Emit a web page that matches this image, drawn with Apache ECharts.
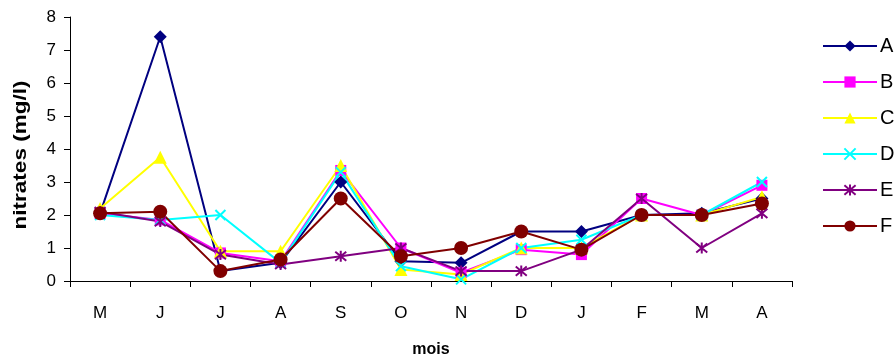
<!DOCTYPE html>
<html>
<head>
<meta charset="utf-8">
<script src="https://cdn.jsdelivr.net/npm/echarts@6/dist/echarts.min.js"></script>
<style>
  html, body { margin: 0; padding: 0; background: #fff; }
  #chart { width: 895px; height: 363px; }
</style>
</head>
<body>
<div id="chart"></div>
<script>
// Months of the sampling campaign (May to April)
const months = ['M', 'J', 'J', 'A', 'S', 'O', 'N', 'D', 'J', 'F', 'M', 'A'];

// Nitrate concentration (mg/l) per sampling station
const stationA = [2.05, 7.4, 0.3, 0.55, 3.0, 0.6, 0.55, 1.5, 1.5, 2.0, 2.05, 2.5];
const stationB = [2.05, 1.85, 0.85, 0.6, 3.35, 1.0, 0.25, 0.95, 0.8, 2.5, 2.0, 2.9];
const stationC = [2.2, 3.75, 0.9, 0.9, 3.5, 0.35, 0.2, 1.0, 1.0, 2.0, 2.0, 2.55];
const stationD = [2.0, 1.85, 2.0, 0.55, 3.3, 0.45, 0.05, 1.0, 1.25, 2.0, 2.0, 3.0];
const stationE = [2.1, 1.8, 0.8, 0.5, 0.75, 1.0, 0.3, 0.3, 0.95, 2.5, 1.0, 2.05];
const stationF = [2.05, 2.1, 0.3, 0.65, 2.5, 0.75, 1.0, 1.5, 0.95, 2.0, 2.0, 2.35];

const yTicks = [0, 1, 2, 3, 4, 5, 6, 7, 8];

const FONT = '"Liberation Sans", Arial, sans-serif';

const crossPath = 'path://M0,0L10,10M10,0L0,10';
const starPath = 'path://M0,0L10,10M10,0L0,10M5,-1L5,11';

function lineSeries(name, data, color, symbol, size, stroked) {
  return {
    name: name,
    type: 'line',
    data: data,
    symbol: symbol,
    symbolSize: size,
    lineStyle: { color: color, width: 2 },
    itemStyle: stroked
      ? { color: 'rgba(0,0,0,0)', borderColor: color, borderWidth: 2 }
      : { color: color, borderWidth: 0 },
    emphasis: { disabled: true },
    animation: false
  };
}

const chart = echarts.init(document.getElementById('chart'), null, { renderer: 'canvas' });

chart.setOption({
  backgroundColor: '#ffffff',
  textStyle: { fontFamily: FONT },
  grid: { left: 70, width: 722, top: 17, height: 271, containLabel: false },
  legend: {
    orient: 'vertical',
    left: 817,
    top: 31,
    itemWidth: 54,
    itemHeight: 14,
    itemGap: 16,
    textStyle: { fontFamily: FONT, fontSize: 20, color: '#000', lineHeight: 20, padding: [0, 0, 0, -2] },
    data: ['A', 'B', 'C', 'D', 'E', 'F']
  },
  // Stretched, rotated y-axis title
  graphic: [{
    type: 'text',
    x: 21,
    y: 155,
    rotation: Math.PI / 2,
    scaleX: 1.25,
    style: {
      text: 'nitrates (mg/l)',
      fontFamily: FONT,
      fontSize: 18,
      fontWeight: 'bold',
      fill: '#000',
      align: 'center',
      verticalAlign: 'middle'
    },
    silent: true
  }],
  xAxis: {
    type: 'category',
    data: months,
    boundaryGap: true,
    name: 'mois',
    nameLocation: 'middle',
    nameGap: 61,
    nameTextStyle: { fontFamily: FONT, fontSize: 16, fontWeight: 'bold', color: '#000' },
    axisLine: { lineStyle: { color: '#000', width: 1 } },
    axisTick: { show: true, inside: false, length: 6, lineStyle: { color: '#000' } },
    axisLabel: { fontFamily: FONT, fontSize: 17, color: '#000', margin: 24 },
    splitLine: { show: false }
  },
  yAxis: {
    type: 'value',
    min: yTicks[0],
    max: yTicks[yTicks.length - 1],
    interval: 1,
    axisLine: { show: true, lineStyle: { color: '#000', width: 1 } },
    axisTick: { show: true, inside: false, length: 6, lineStyle: { color: '#000' } },
    axisLabel: { fontFamily: FONT, fontSize: 17, color: '#000', margin: 14 },
    splitLine: { show: false }
  },
  series: [
    lineSeries('A', stationA, '#000080', 'diamond', 13, false),
    lineSeries('B', stationB, '#ff00ff', 'rect', 11, false),
    lineSeries('C', stationC, '#ffff00', 'triangle', 13, false),
    lineSeries('D', stationD, '#00ffff', crossPath, 10, true),
    lineSeries('E', stationE, '#800080', starPath, 11, true),
    lineSeries('F', stationF, '#800000', 'circle', 14, false)
  ]
});
</script>
</body>
</html>
